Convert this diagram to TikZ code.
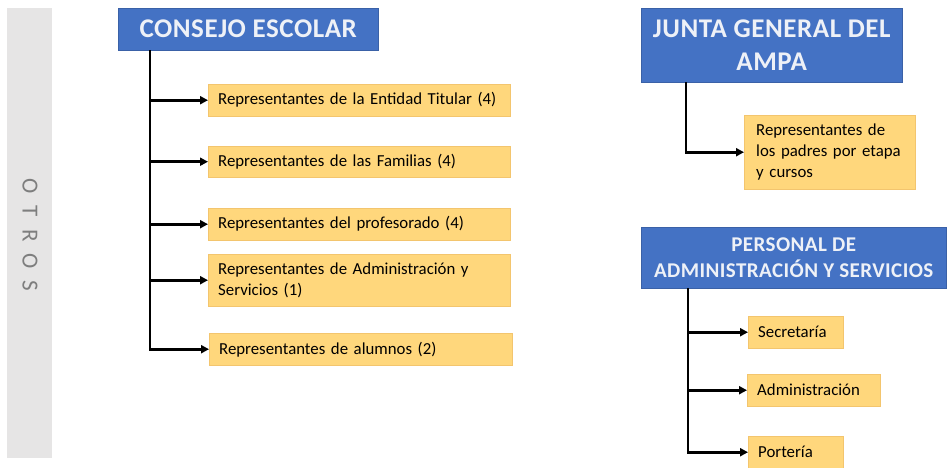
\documentclass[tikz,border=0pt]{standalone}
\usepackage{fontspec}
\setmainfont{Carlito}
\usetikzlibrary{arrows.meta}
\definecolor{azulcab}{HTML}{4472C4}
\definecolor{textocab}{HTML}{EEF1F7}
\definecolor{amarillo}{HTML}{FFD77C}
\definecolor{bordeam}{HTML}{F3C56E}
\definecolor{barra}{HTML}{E6E5E5}
\definecolor{grisotros}{HTML}{7E7E7E}
\tikzset{
  x=1pt, y=-1pt,
  cabeza/.style={fill=azulcab, draw=azulcab!85!black, text=textocab, align=center,
    anchor=north west, inner sep=0pt,
    font=\bfseries\addfontfeature{LetterSpace=2}\fontsize{27}{33}\selectfont},
  hoja/.style={fill=amarillo, draw=bordeam, anchor=north west, align=left,
    inner xsep=10pt, inner ysep=0pt, font=\fontsize{16.8}{21}\selectfont},
  flecha/.style={line width=2.6pt, -{Triangle[length=8pt,width=8pt]}}
}

\begin{document}
\begin{tikzpicture}
		%%%%% START %%%%%
		\useasboundingbox (0,0) rectangle (950,467);
		
		% columna gris
		\fill[barra] (7,8) rectangle (52,458);
		\node[rotate=-90, text=grisotros, font=\fontsize{23}{23}\selectfont] (otros) at (30,235)
			{O\hspace{12pt}T\hspace{12pt}R\hspace{12pt}O\hspace{12pt}S};
		
		% consejo escolar
		\node[cabeza, minimum width=260pt, minimum height=42pt] (consejo) at (118,8) {CONSEJO ESCOLAR};
		\node[hoja, text width=282pt, minimum height=32pt] (entidad) at (208,84) {Representantes de la Entidad Titular (4)};
		\node[hoja, text width=282pt, minimum height=31pt] (familias) at (208,146) {Representantes de las Familias (4)};
		\node[hoja, text width=282pt, minimum height=32pt] (profes) at (208,208) {Representantes del profesorado (4)};
		\node[hoja, text width=282pt, minimum height=52pt] (admon) at (208,254) {Representantes de Administración y\\Servicios (1)};
		\node[hoja, text width=283pt, minimum height=32pt] (alumnos) at (209,333) {Representantes de alumnos (2)};
		
		\coordinate (consejoT) at (150,50);
		\draw[flecha] (consejoT) |- (entidad.west);
		\draw[flecha] (consejoT) |- (familias.west);
		\draw[flecha] (consejoT) |- (profes.west);
		\draw[flecha] (consejoT) |- (admon.west);
		\draw[flecha] (consejoT) |- (alumnos.west);
		
		% junta general del ampa
		\node[cabeza, minimum width=261pt, minimum height=74pt] (junta) at (641,8) {JUNTA GENERAL DEL\\AMPA};
		\node[hoja, inner xsep=12pt, text width=147pt, minimum height=74pt] (padres) at (744,115)
			{Representantes de\\los padres por etapa\\y cursos};
		\coordinate (juntaT) at (686,82);
		\draw[flecha] (juntaT) |- (padres.west);
		
		% personal de administracion y servicios
		\node[cabeza, minimum width=305pt, minimum height=61pt,
			font=\bfseries\addfontfeature{LetterSpace=2}\fontsize{21}{26}\selectfont] (personal) at (641,227)
			{PERSONAL DE\\ADMINISTRACIÓN Y SERVICIOS};
		\node[hoja, text width=75pt, minimum height=32pt] (secre) at (748,316) {Secretaría};
		\node[hoja, text width=113pt, minimum height=32pt] (admin) at (747,374) {Administración};
		\node[hoja, text width=75pt, minimum height=32pt] (porteria) at (748,436) {Portería};
		\coordinate (personalT) at (688,288);
		\draw[flecha] (personalT) |- (secre.west);
		\draw[flecha] (personalT) |- (admin.west);
		\draw[flecha] (personalT) |- (porteria.west);
		
		%%%%% END %%%%%
\end{tikzpicture}
\end{document}
